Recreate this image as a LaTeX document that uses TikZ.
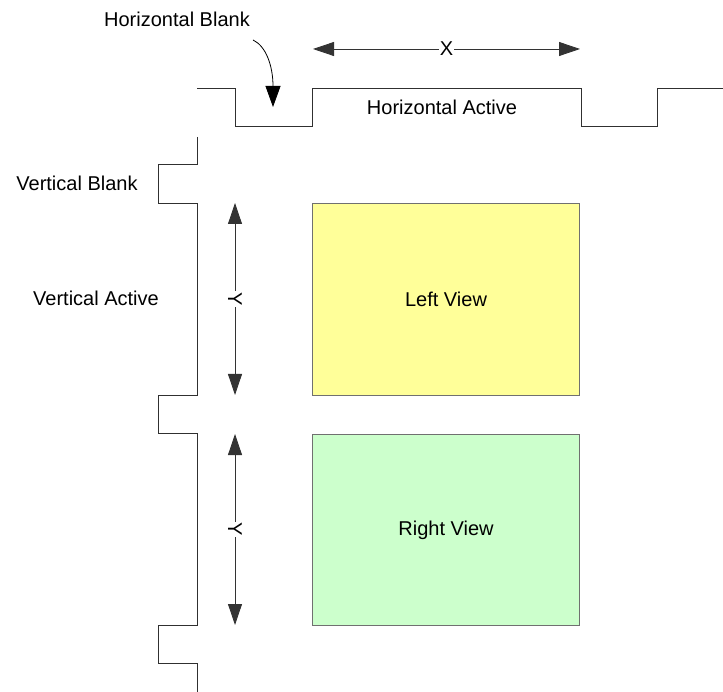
\documentclass[tikz,border=0pt]{standalone}
\usepackage{fontspec}
\setmainfont{Liberation Sans}
\usetikzlibrary{arrows.meta}
\definecolor{leftfill}{HTML}{FFFF99}
\definecolor{rightfill}{HTML}{CCFFCC}
\definecolor{boxline}{HTML}{707070}
\definecolor{wave}{HTML}{303030}
\begin{document}
\begin{tikzpicture}[x=1pt,y=-1pt,
  lbl/.style={font=\fontsize{20}{24}\selectfont, inner sep=0pt},
  wavestyle/.style={draw=wave, line width=0.9pt},
  viewbox/.style={draw=boxline, line width=1pt, minimum width=267pt, minimum height=192pt, anchor=north west, inner sep=0pt, font=\fontsize{20}{24}\selectfont},
  dim/.style={draw=black!80, line width=0.8pt, {Triangle[length=21pt,width=14pt]}-{Triangle[length=21pt,width=14pt]}},
  callout/.style={draw=black, line width=0.8pt, -{Triangle[length=21pt,width=15pt]}},
  dimlbl/.style={font=\fontsize{20}{24}\selectfont, fill=white, inner sep=1pt}
]
\useasboundingbox (0,0) rectangle (723,692);

% horizontal waveform
\draw[wavestyle] (197,88) -- (235,88) -- (235,126) -- (312,126) -- (312,88) -- (581,88) -- (581,126) -- (657,126) -- (657,88) -- (723,88);
% vertical waveform
\draw[wavestyle] (197,137) -- (197,164) -- (158,164) -- (158,203) -- (197,203) -- (197,395) -- (158,395) -- (158,433) -- (197,433) -- (197,625) -- (158,625) -- (158,663) -- (197,663) -- (197,692);

% views
\node[viewbox, fill=leftfill, minimum height=192pt] (left) at (312,203) {Left View};
\node[viewbox, fill=rightfill, minimum height=191pt] (right) at (312,434) {Right View};

% labels
\node[lbl] (hblank) at (177,19) {Horizontal Blank};
\node[lbl] (hactive) at (442,107) {Horizontal Active};
\node[lbl] (vblank) at (77,183) {Vertical Blank};
\node[lbl] (vactive) at (96,298) {Vertical Active};

% X dimension
\coordinate (xa) at (313,49);
\coordinate (xb) at (580,49);
\draw[dim] (xa) -- node[dimlbl] {X} (xb);

% Y dimensions
\coordinate (ya1) at (235,203);
\coordinate (yb1) at (235,395);
\draw[dim] (ya1) -- node[dimlbl, rotate=-90] {Y} (yb1);
\coordinate (ya2) at (235,434);
\coordinate (yb2) at (235,625);
\draw[dim] (ya2) -- node[dimlbl, rotate=-90] {Y} (yb2);

% callout arrow
\coordinate (cs) at (253,40);
\coordinate (ce) at (273,107);
\draw[callout] (cs) .. controls (266,46) and (273,66) .. (ce);
\end{tikzpicture}
\end{document}
